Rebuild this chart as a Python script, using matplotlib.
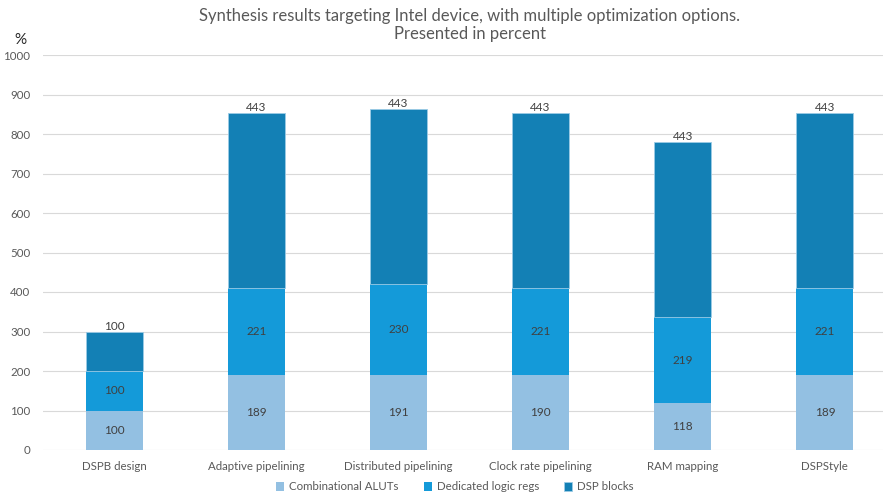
import matplotlib.pyplot as plt
import numpy as np

# synthesis results per configuration, in percent
configs = ['DSPB design', 'Adaptive pipelining', 'Distributed pipelining',
           'Clock rate pipelining', 'RAM mapping', 'DSPStyle']
aluts = [100, 189, 191, 190, 118, 189]
logic_regs = [100, 221, 230, 221, 219, 221]
dsp_blocks = [100, 443, 443, 443, 443, 443]

plt.rcParams['font.family'] = ['Lato', 'DejaVu Sans']
txt = '#595959'

fig = plt.figure(figsize=(8.83, 4.97), dpi=100)
ax = fig.add_axes([43 / 883, 47 / 497, 853 / 883, 395 / 497])

x = np.arange(len(configs))
w = 0.4
a = np.array(aluts)
r = np.array(logic_regs)
d = np.array(dsp_blocks)

b1 = ax.bar(x, a, w, color='#93c0e2', label='Combinational ALUTs', zorder=2)
b2 = ax.bar(x, r, w, bottom=a, color='#149ad9', label='Dedicated logic regs', zorder=2)
b3 = ax.bar(x, d, w, bottom=a + r, color='#1380b5', label='DSP blocks', zorder=2,
            edgecolor='#9ccbe6', linewidth=0.6)

ax.bar_label(b1, labels=aluts, label_type='center', fontsize=8.5, color='#404040')
ax.bar_label(b2, labels=logic_regs, label_type='center', fontsize=8.5, color='#404040')
ax.bar_label(b3, labels=dsp_blocks, label_type='edge', padding=0, fontsize=8.5, color='#404040')

ax.set_xlim(-0.5, len(configs) - 0.5)
ax.set_ylim(0, 1000)
ax.set_yticks(range(0, 1001, 100))
ax.set_xticks(x)
ax.set_xticklabels(configs)
ax.tick_params(axis='both', length=0, labelsize=8.3, colors=txt)
ax.tick_params(axis='y', pad=9)
ax.tick_params(axis='x', pad=8)
ax.grid(axis='y', color='#d9d9d9', linewidth=0.8, zorder=0)
for s in ax.spines.values():
    s.set_visible(False)

fig.text(470 / 883, 1 - 8 / 497,
         'Synthesis results targeting Intel device, with multiple optimization options.\nPresented in percent',
         ha='center', va='top', fontsize=12, color=txt, linespacing=1.12)
fig.text(20 / 883, 1 - 40 / 497, '%', ha='center', va='center', fontsize=11, color='#262626')

fig.legend(handles=[b1, b2, b3], loc='center', bbox_to_anchor=(455 / 883, 1 - 487 / 497),
           ncol=3, frameon=False, fontsize=8.3, labelcolor=txt, handlelength=0.7,
           handleheight=0.7, handletextpad=0.4, columnspacing=2.2)

fig.savefig('out.png', dpi=100)
